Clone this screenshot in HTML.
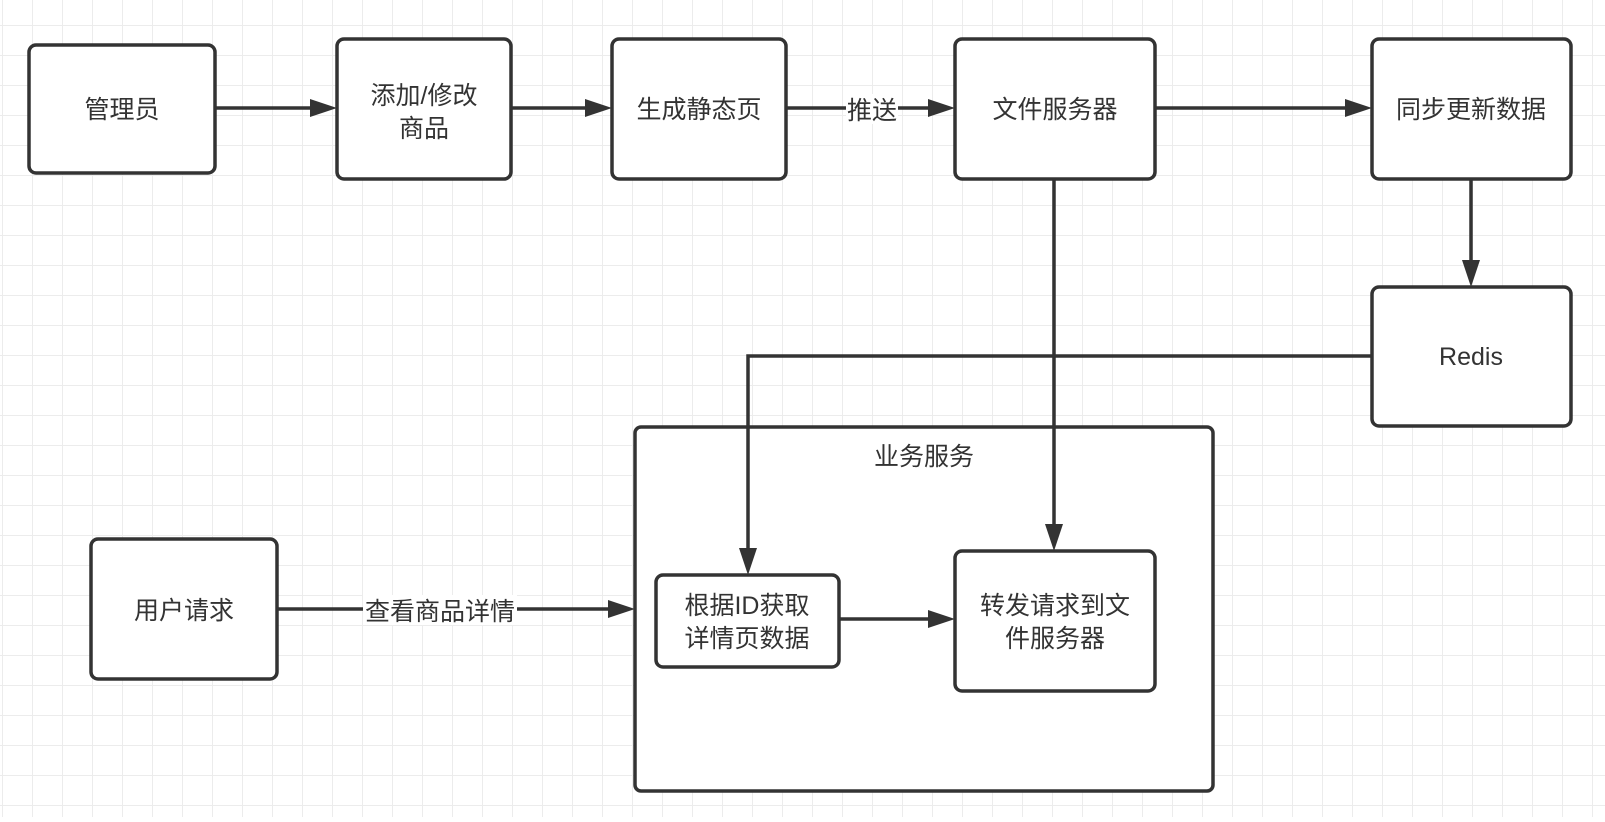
<!DOCTYPE html>
<html><head><meta charset="utf-8"><style>
body{margin:0;width:1605px;height:817px;overflow:hidden;background:#fff;}
svg text{font-family:"Liberation Sans","Noto Sans CJK SC",sans-serif;font-size:25px;fill:#333;text-anchor:middle;}
</style></head><body>
<svg width="1605" height="817" xmlns="http://www.w3.org/2000/svg">
<defs>
<pattern id="g" x="2" y="25" width="30" height="30" patternUnits="userSpaceOnUse">
<path d="M0 0H30M0 0V30" stroke="#ececec" stroke-width="2" fill="none"/>
</pattern>
</defs>
<rect width="1605" height="817" fill="url(#g)"/>
<g fill="#fff" stroke="#333" stroke-width="3.5">
<rect x="635" y="427" width="578" height="364" rx="6"/>
<rect x="29" y="45" width="186" height="128" rx="7"/>
<rect x="337" y="39" width="174" height="140" rx="7"/>
<rect x="612" y="39" width="174" height="140" rx="7"/>
<rect x="955" y="39" width="200" height="140" rx="7"/>
<rect x="1372" y="39" width="199" height="140" rx="7"/>
<rect x="1372" y="287" width="199" height="139" rx="7"/>
<rect x="656" y="575" width="183" height="92" rx="7"/>
<rect x="955" y="551" width="200" height="140" rx="7"/>
<rect x="91" y="539" width="186" height="140" rx="7"/>
</g>
<g stroke="#333" stroke-width="3.5" fill="none">
<path d="M215 108H312"/>
<path d="M511 108H588"/>
<path d="M786 108H931"/>
<path d="M1155 108H1348"/>
<path d="M1471 179V263"/>
<path d="M1054 179V527"/>
<path d="M1372 356H748V551"/>
<path d="M277 609H611"/>
<path d="M839 619H931"/>
</g>
<g fill="#333">
<path d="M337 108l-27-9v18z"/>
<path d="M612 108l-27-9v18z"/>
<path d="M955 108l-27-9v18z"/>
<path d="M1372 108l-27-9v18z"/>
<path d="M1471 287l-9-27h18z"/>
<path d="M1054 551l-9-27h18z"/>
<path d="M748 575l-9-27h18z"/>
<path d="M635 609l-27-9v18z"/>
<path d="M955 619l-27-9v18z"/>
</g>
<rect x="846" y="94" width="52" height="30" fill="#fff"/>
<rect x="363" y="595" width="154" height="30" fill="#fff"/>
<text x="872" y="119">推送</text>
<text x="440" y="620">查看商品详情</text>
<text x="122" y="118">管理员</text>
<text x="424" y="104">添加/修改</text>
<text x="424" y="137">商品</text>
<text x="699" y="118">生成静态页</text>
<text x="1055" y="118">文件服务器</text>
<text x="1471" y="118">同步更新数据</text>
<text x="1471" y="365">Redis</text>
<text x="924" y="465">业务服务</text>
<text x="747" y="614">根据ID获取</text>
<text x="747" y="647">详情页数据</text>
<text x="1055" y="614">转发请求到文</text>
<text x="1055" y="647">件服务器</text>
<text x="184" y="619">用户请求</text>
</svg>
</body></html>
